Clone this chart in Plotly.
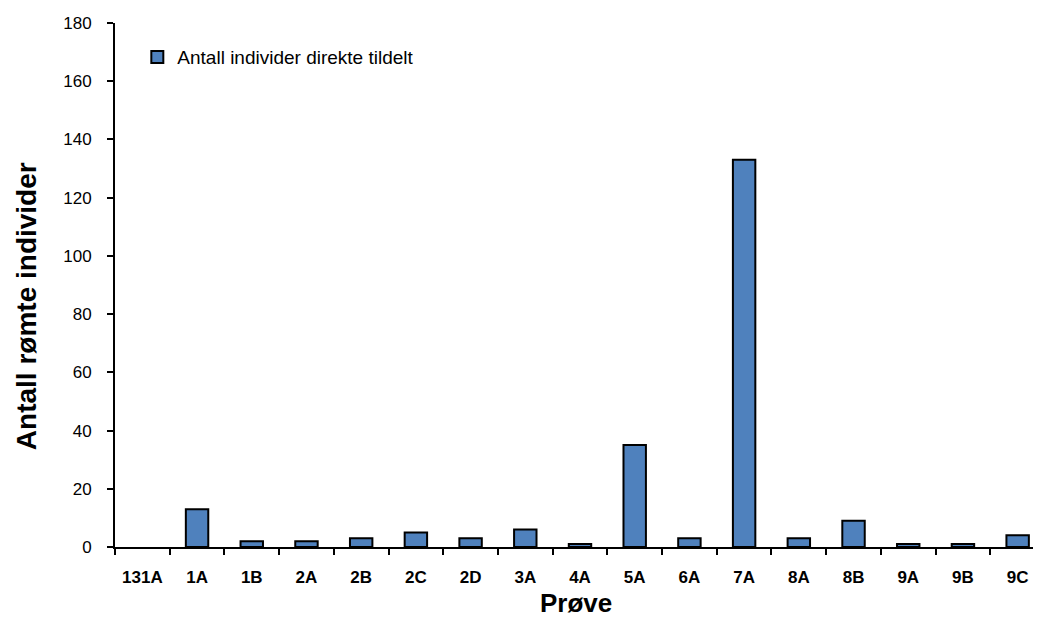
import plotly.graph_objects as go

categories = ["131A", "1A", "1B", "2A", "2B", "2C", "2D", "3A", "4A", "5A", "6A", "7A", "8A", "8B", "9A", "9B", "9C"]
# 131A shows no bar in the chart
values = [None, 13, 2, 2, 3, 5, 3, 6, 1, 35, 3, 133, 3, 9, 1, 1, 4]
series_name = "Antall individer direkte tildelt"
x_title = "Prøve"
y_title = "Antall rømte individer"

fig = go.Figure()
fig.add_trace(go.Bar(
    x=categories, y=values, name=series_name,
    marker=dict(color="#4F81BD", line=dict(color="black", width=2)),
    width=0.41,
))

FONT = "Liberation Sans, Arial, sans-serif"
fig.update_layout(
    width=1041, height=625,
    margin=dict(l=107, r=4, t=15, b=86),
    paper_bgcolor="white", plot_bgcolor="white",
    font=dict(family=FONT, color="black"),
    showlegend=True,
    legend=dict(x=0.024, y=0.935, xanchor="left", yanchor="middle",
                font=dict(size=19, family=FONT),
                bgcolor="rgba(0,0,0,0)"),
    annotations=[
        dict(text="<b>%s</b>" % x_title, xref="paper", yref="paper",
             x=0.496, y=-0.107, xanchor="center", yanchor="middle", showarrow=False,
             font=dict(size=26, family=FONT)),
        dict(text="<b>%s</b>" % y_title, xref="paper", yref="paper",
             x=-0.095, y=0.459, xanchor="center", yanchor="middle", showarrow=False,
             textangle=-90, font=dict(size=28, family=FONT)),
    ],
)
fig.update_xaxes(
    type="category", categoryorder="array", categoryarray=categories,
    showline=True, linecolor="black", linewidth=2,
    ticks="outside", tickson="boundaries", ticklen=6, tickwidth=2, tickcolor="black",
    tickfont=dict(size=17, family=FONT, weight="bold"),
    ticklabelstandoff=14,
    automargin=False, showgrid=False,
)
fig.update_yaxes(
    range=[0, 180], dtick=20, showline=True, linecolor="black", linewidth=2,
    ticks="outside", ticklen=6, tickwidth=2, tickcolor="black",
    tickfont=dict(size=17, family=FONT),
    ticklabelstandoff=12,
    automargin=False, showgrid=False, zeroline=False,
)

fig.write_html("out.html")
